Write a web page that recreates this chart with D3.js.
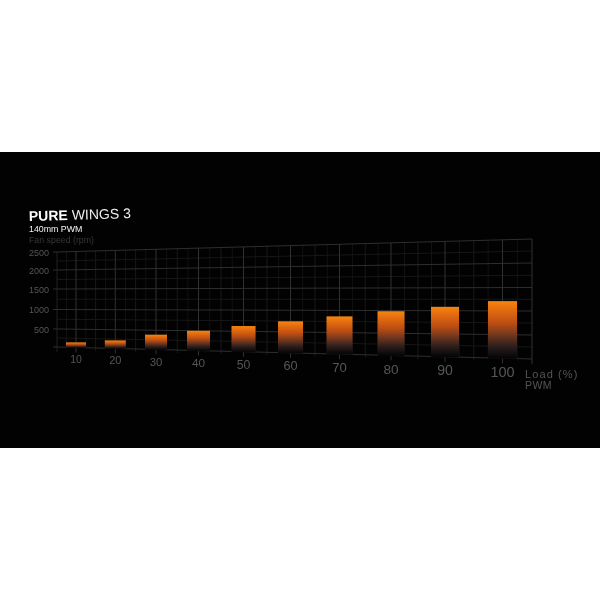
<!DOCTYPE html>
<html>
<head>
<meta charset="utf-8">
<script src="https://cdn.jsdelivr.net/npm/d3@7"></script>
<style>
html,body{margin:0;padding:0;background:#fff}
svg{display:block}
text{font-family:"Liberation Sans",Arial,sans-serif}
</style>
</head>
<body>
<svg id="c" width="600" height="600"></svg>
<script>
const loads = [10, 20, 30, 40, 50, 60, 70, 80, 90, 100];
const fanSpeeds = [140, 215, 385, 500, 625, 745, 865, 985, 1085, 1210];
const rpmTicks = [2500, 2000, 1500, 1000, 500];
const titleBold = "PURE";
const titleLight = "WINGS 3";
const subtitle = "140mm PWM";
const yTitle = "Fan speed (rpm)";
const xTitle = "Load (%)";
const xSubtitle = "PWM";

const svg = d3.select("#c");
const defs = svg.append("defs");
defs.append("filter").attr("id","soft").attr("x",0).attr("y",0).attr("width",1).attr("height",1)
  .attr("filterUnits","objectBoundingBox")
  .attr("color-interpolation-filters","sRGB")
  .append("feGaussianBlur").attr("stdDeviation",0.4);
svg.append("rect").attr("x",0).attr("y",152).attr("width",600).attr("height",296).attr("fill","#020202");
const root = svg.append("g").attr("filter","url(#soft)");
root.append("rect").attr("x",0).attr("y",153).attr("width",600).attr("height",294).attr("fill","#020202");

// perspective: load to x, then rpm to y interpolated between the left and right edges
const x = d3.scaleLinear()
  .domain([5,10,20,30,40,50,60,70,80,90,100,105])
  .range([57,76,115.3,156,198.5,243.5,290.5,339.5,391,445,502.5,532]);
const yLeft = d3.scaleLinear().domain([0,500,1000,1500,2000,2500]).range([347,329,309.5,289,270,252]);
const yRight = d3.scaleLinear().domain([0,500,1000,1500,2000,2500]).range([359,335,311,287.5,263,239]);
const edge = d3.scaleLinear().domain([57,532]).range([0,1]);
const y = (rpm, px) => { const t = edge(px); return yLeft(rpm)*(1-t) + yRight(rpm)*t; };
const barWidth = d3.scaleLinear().domain([10,100]).range([20,29]);
const labelSize = d3.scaleLinear().domain([10,100]).range([10.5,14.5]);
const labelDrop = d3.scaleLinear().domain([10,100]).range([15.5,19]);

const grid = root.append("g").attr("fill","none");
d3.range(5,105.01,2.5).filter(l => l%10 !== 0 && l !== 5 && l !== 105).forEach(l => {
  const px = x(l);
  grid.append("line").attr("x1",px).attr("x2",px).attr("y1",y(2500,px)).attr("y2",y(0,px)+(l%5===0?3:0))
    .attr("stroke", l%5===0 ? "#191919" : "#121212").attr("stroke-width",1);
});
d3.range(250,2500,500).forEach(r => {
  grid.append("line").attr("x1",x(5)).attr("x2",x(105)).attr("y1",y(r,x(5))).attr("y2",y(r,x(105)))
    .attr("stroke","#171717").attr("stroke-width",1);
});
[5].concat(loads,[105]).forEach(l => {
  const px = x(l);
  grid.append("line").attr("x1",px).attr("x2",px).attr("y1",y(2500,px)).attr("y2",y(0,px)+5)
    .attr("stroke", (l===5) ? "#202020" : "#303030").attr("stroke-width",1);
});
[0].concat(rpmTicks).forEach(r => {
  grid.append("line").attr("x1",x(5)-4).attr("x2",x(105)).attr("y1",y(r,x(5)-4)).attr("y2",y(r,x(105)))
    .attr("stroke", "#2e2e2e").attr("stroke-width",1);
});

const grad = defs.append("linearGradient").attr("id","bar")
  .attr("x1",0).attr("y1",0).attr("x2",0).attr("y2",1);
[[0,"#f6860f"],[0.12,"#e8700f"],[0.38,"#bd4e13"],[0.58,"#74381e"],[0.78,"#2e1f1d"],[0.93,"#0f0c0e"],[1,"#040404"]]
  .forEach(s => grad.append("stop").attr("offset",s[0]).attr("stop-color",s[1]));

root.append("g").selectAll("rect").data(loads).join("rect")
  .attr("x", d => x(d)-barWidth(d)/2)
  .attr("width", d => barWidth(d))
  .attr("y", (d,i) => y(fanSpeeds[i], x(d)))
  .attr("height", (d,i) => y(0,x(d)) - y(fanSpeeds[i], x(d)) + 0.5)
  .attr("fill","url(#bar)");

root.append("g").selectAll("text").data(rpmTicks).join("text")
  .attr("x",49).attr("y", d => yLeft(d)+3.5)
  .attr("text-anchor","end").attr("font-size",9).attr("fill","#565656").text(d => d);

root.append("g").selectAll("text").data(loads).join("text")
  .attr("x", d => x(d)).attr("y", d => y(0,x(d))+labelDrop(d))
  .attr("text-anchor","middle").attr("font-size", d => labelSize(d))
  .attr("fill","#565656").text(d => d);

const t = root.append("text").attr("transform","translate(29,221) rotate(-1.6)").attr("font-size",14).attr("fill","#fff");
t.append("tspan").attr("font-weight","bold").text(titleBold);
t.append("tspan").attr("dx",4).attr("fill","#eee").text(titleLight);
root.append("text").attr("x",29).attr("y",232).attr("font-size",8.8).attr("fill","#f4f4f4").attr("font-weight","500").text(subtitle);
root.append("text").attr("x",29).attr("y",243).attr("font-size",8.8).attr("fill","#383838").text(yTitle);
root.append("text").attr("x",525).attr("y",377.5).attr("font-size",11).attr("letter-spacing",1.1).attr("fill","#555").text(xTitle);
root.append("text").attr("x",525).attr("y",389).attr("font-size",10.5).attr("letter-spacing",0.4).attr("fill","#555").text(xSubtitle);
</script>
</body>
</html>
